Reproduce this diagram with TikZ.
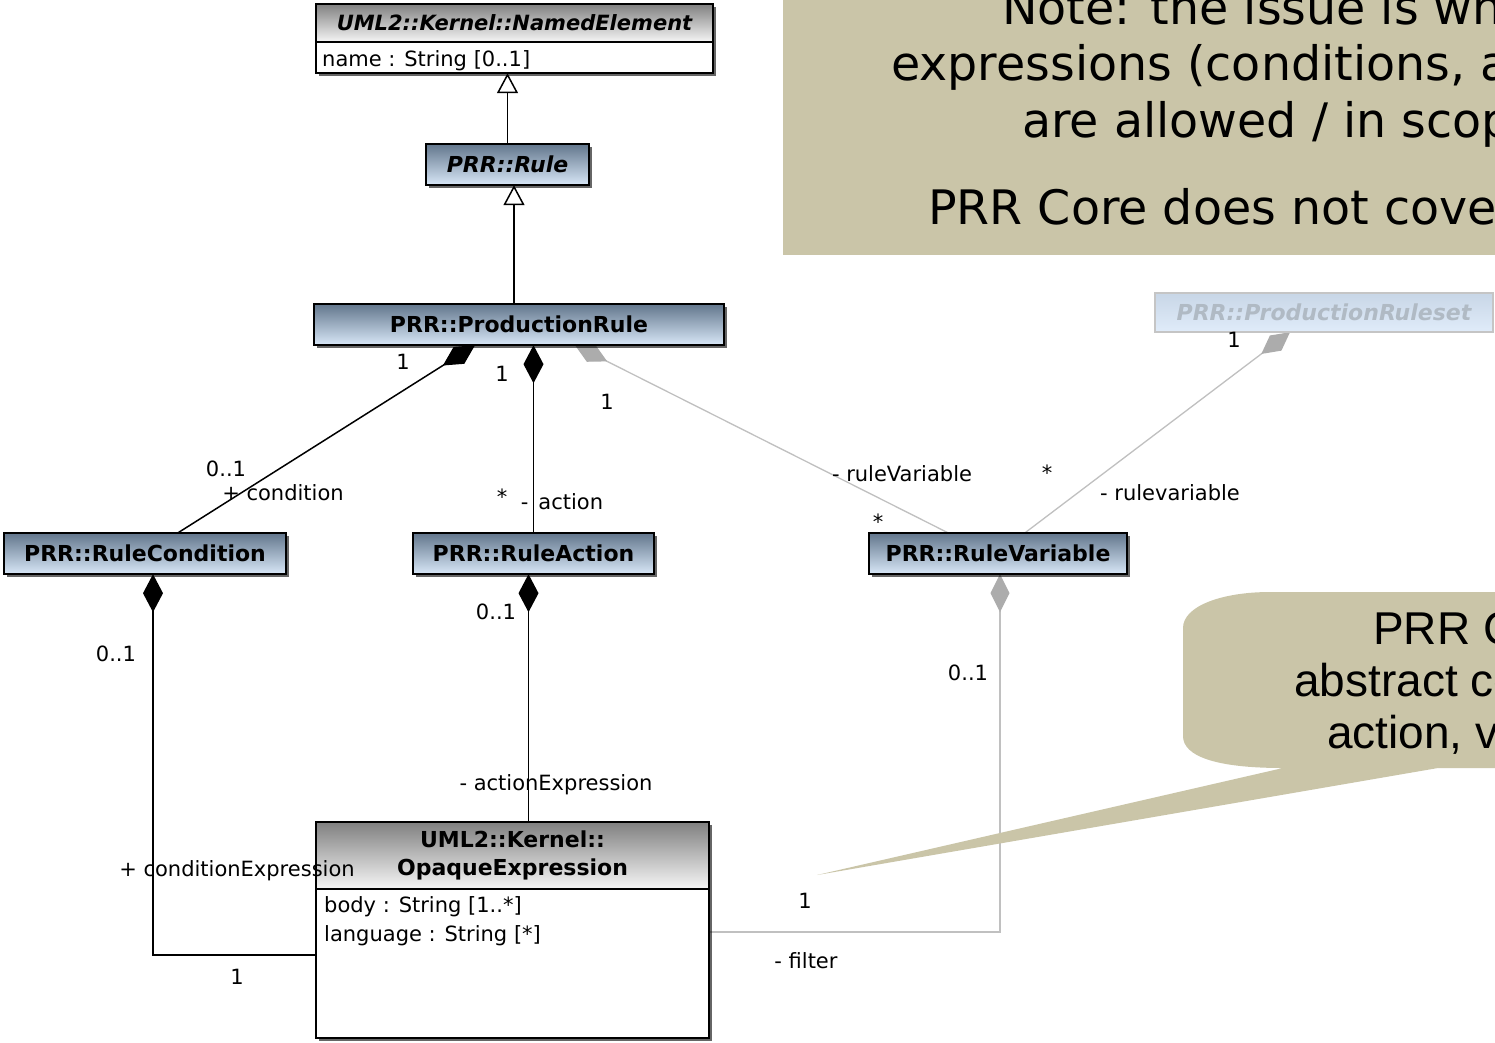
\documentclass[tikz,border=0pt]{standalone}
\usepackage{fontspec}
\setmainfont{DejaVu Sans}
\newfontfamily\notefont{DejaVu Sans}
\newfontfamily\bubblefont{Liberation Sans}
\usetikzlibrary{arrows.meta,calc,shadows}

\definecolor{notebg}{RGB}{202,197,168}
\definecolor{hdtop}{RGB}{98,118,140}
\definecolor{hdbot}{RGB}{216,231,247}
\definecolor{graytop}{RGB}{128,128,128}
\definecolor{graybot}{RGB}{246,246,246}
\definecolor{linegray}{RGB}{192,192,192}
\definecolor{diagray}{RGB}{172,172,172}
\definecolor{fadetxt}{RGB}{176,186,196}
\definecolor{fadetop}{RGB}{200,214,230}
\definecolor{fadebot}{RGB}{224,236,250}

\tikzset{
  shadowed/.style={drop shadow={shadow xshift=3pt,shadow yshift=-3pt,fill=black,opacity=0.6}},
  cls/.style={draw=black, line width=1.6pt, top color=hdtop, bottom color=hdbot,
    minimum height=41pt, inner sep=0pt, shadowed,
    font=\fontsize{22}{26}\selectfont\bfseries},
  grayhead/.style={draw=black, line width=1.6pt, top color=graytop, bottom color=graybot,
    inner sep=0pt, shadowed},
  attrbox/.style={draw=black, line width=1.6pt, fill=white, inner sep=0pt, shadowed},
  attr/.style={inner sep=0pt, anchor=base west, font=\fontsize{21}{24}\selectfont},
  lbl/.style={inner sep=0pt, text height=16pt, text depth=4pt, font=\fontsize{21}{24}\selectfont},
  comp/.style={draw=black, line width=1.5pt, -{Diamond[length=38pt,width=20pt]}},
  rcomp/.style={draw=black, line width=1.5pt, {Diamond[length=38pt,width=20pt]}-},
  gcomp/.style={draw=linegray, line width=1.3pt, -{Diamond[length=36pt,width=19pt,color=diagray]}},
  rgcomp/.style={draw=linegray, line width=1.3pt, {Diamond[length=38pt,width=19pt,color=diagray]}-},
  gen/.style={draw=black, line width=1.5pt, -{Triangle[open,length=20pt,width=21pt,fill=white]}},
  notetxt/.style={inner sep=0pt, anchor=base west, font=\notefont\fontsize{47.5}{56}\selectfont},
  bubbletxt/.style={inner sep=0pt, anchor=base west, font=\bubblefont\fontsize{46}{52}\selectfont},
}

\begin{document}
\begin{tikzpicture}[x=1pt,y=-1pt]
\useasboundingbox (0,0) rectangle (1495,1042);
\fill[white] (0,0) rectangle (1495,1042);
\clip (0,0) rectangle (1495,1042);

% ---------- box centres ----------
\path
  (514.5,23)   coordinate (neHeadC)
  (514.5,57.5) coordinate (neBodyC)
  (507.5,164.5) coordinate (ruleC)
  (519,324.5)  coordinate (prC)
  (145,553.5)  coordinate (rcC)
  (533.5,553.5) coordinate (raC)
  (998,553.5)  coordinate (rvC)
  (1324,312.5) coordinate (prsC)
  (512.5,855.5) coordinate (oeHeadC)
  (512.5,963.5) coordinate (oeBodyC);

% invisible frames used as connector anchors
\path
  node[minimum width=397pt, minimum height=38pt, inner sep=0pt] (neHead) at (neHeadC) {}
  node[minimum width=397pt, minimum height=31pt, inner sep=0pt] (neBody) at (neBodyC) {}
  node[minimum width=163pt, minimum height=41pt, inner sep=0pt] (rule) at (ruleC) {}
  node[minimum width=410pt, minimum height=41pt, inner sep=0pt] (pr) at (prC) {}
  node[minimum width=282pt, minimum height=41pt, inner sep=0pt] (rc) at (rcC) {}
  node[minimum width=241pt, minimum height=41pt, inner sep=0pt] (ra) at (raC) {}
  node[minimum width=258pt, minimum height=41pt, inner sep=0pt] (rv) at (rvC) {}
  node[minimum width=338pt, minimum height=39pt, inner sep=0pt] (prs) at (prsC) {}
  node[minimum width=393pt, minimum height=67pt, inner sep=0pt] (oeHead) at (oeHeadC) {}
  node[minimum width=393pt, minimum height=149pt, inner sep=0pt] (oeBody) at (oeBodyC) {};

% ---------- connectors ----------
% generalizations
\draw[gen] (rule.north) -- (rule.north |- neBody.south);
\path ($(pr.north)+(-5,0)$) coordinate (g2);
\draw[gen] (g2) -- (g2 |- rule.south);

% ProductionRule compositions
\draw[comp] ($(rc.north)+(33,0)$) -- ($(pr.south)+(-44,0)$);
\draw[comp] (ra.north) -- (ra.north |- pr.south);
\draw[gcomp] ($(rv.north)+(-50,0)$) -- ($(pr.south)+(56,0)$);
\draw[gcomp] ($(rv.north)+(27,0)$) -- ($(prs.south)+(-34,0)$);

% expression compositions
\path ($(rc.south)+(8,0)$) coordinate (c1);
\draw[rcomp] (c1) |- ($(oeBody.west)+(0,-8.5)$);
\path ($(ra.south)+(-5,0)$) coordinate (c2);
\draw[rcomp] (c2) -- (c2 |- oeHead.north);
\path ($(rv.south)+(2,0)$) coordinate (c3);
\draw[rgcomp] (c3) |- ($(oeBody.east)+(0,-31.5)$);

% ---------- class boxes ----------
\node[grayhead, minimum width=397pt, minimum height=38pt,
      font=\fontsize{21}{24}\selectfont\bfseries\itshape] at (neHeadC) {UML2::Kernel::NamedElement};
\node[attrbox, minimum width=397pt, minimum height=31pt] at (neBodyC) {};
\node[attr] (neAttr) at (322,66) {name : String [0..1]};

\node[cls, minimum width=163pt, font=\fontsize{22}{26}\selectfont\bfseries\itshape] at (ruleC) {PRR::Rule};
\node[cls, minimum width=410pt] at (prC) {PRR::ProductionRule};
\node[cls, minimum width=282pt] at (rcC) {PRR::RuleCondition};
\node[cls, minimum width=241pt] at (raC) {PRR::RuleAction};
\node[cls, minimum width=258pt] at (rvC) {PRR::RuleVariable};
\node[draw=diagray!70, line width=1.2pt, top color=fadetop, bottom color=fadebot,
      minimum width=338pt, minimum height=39pt, inner sep=0pt, text=fadetxt,
      font=\fontsize{22}{26}\selectfont\bfseries\itshape] at (prsC) {PRR::ProductionRuleset};

\node[grayhead, minimum width=393pt, minimum height=67pt, align=center,
      font=\fontsize{22}{28}\selectfont\bfseries] at (oeHeadC) {UML2::Kernel::\\OpaqueExpression};
\node[attrbox, minimum width=393pt, minimum height=149pt] at (oeBodyC) {};
\node[attr] (oeAttr1) at (324,912) {body : String [1..*]};
\node[attr] (oeAttr2) at (324,941) {language : String [*]};

% ---------- connector end labels ----------
\node[lbl] (l1)  at (403,363) {1};
\node[lbl] (l2)  at (502,375) {1};
\node[lbl] (l3)  at (607,403) {1};
\node[lbl] (l4)  at (226,470) {0..1};
\node[lbl] (l5)  at (283,494) {+ condition};
\node[lbl] (l6)  at (502,498) {*};
\node[lbl] (l7)  at (562,503) {-\hspace{10pt}action};
\node[lbl] (l8)  at (902,475) {- ruleVariable};
\node[lbl] (l9)  at (1047,474) {*};
\node[lbl] (l10) at (1170,494) {- rulevariable};
\node[lbl] (l11) at (878,523) {*};
\node[lbl] (l12) at (1234,341) {1};
\node[lbl] (l13) at (116,655) {0..1};
\node[lbl] (l14) at (496,613) {0..1};
\node[lbl] (l15) at (968,674) {0..1};
\node[lbl] (l16) at (556,784) {- actionExpression};
\node[lbl] (l17) at (237,870) {+ conditionExpression};
\node[lbl] (l18) at (237,978) {1};
\node[lbl] (l19) at (805,902) {1};
\node[lbl] (l20) at (806,962) {- filter};

% ---------- top note ----------
\fill[notebg] (783,-5) rectangle (1500,255);
\node[notetxt] (n1) at (1002,24)  {Note: the issue is which};
\node[notetxt] (n2) at (891,80)   {expressions (conditions, actions)};
\node[notetxt] (n3) at (1022,137) {are allowed / in scope};
\node[notetxt] (n4) at (928,224)  {PRR Core does not cover};

% ---------- callout bubble ----------
\fill[notebg] (1270,592) -- (1500,592) -- (1500,768) -- (1438,768) -- (817,875) -- (1283,768)
  .. controls (1215,768) and (1183,756) .. (1183,736) -- (1183,628)
  .. controls (1183,606) and (1222,592) .. (1270,592) -- cycle;
\node[bubbletxt] (b1) at (1373,644) {PRR Core};
\node[bubbletxt] (b2) at (1294,696) {abstract conditions,};
\node[bubbletxt] (b3) at (1327,748) {action, variables};
\end{tikzpicture}
\end{document}
